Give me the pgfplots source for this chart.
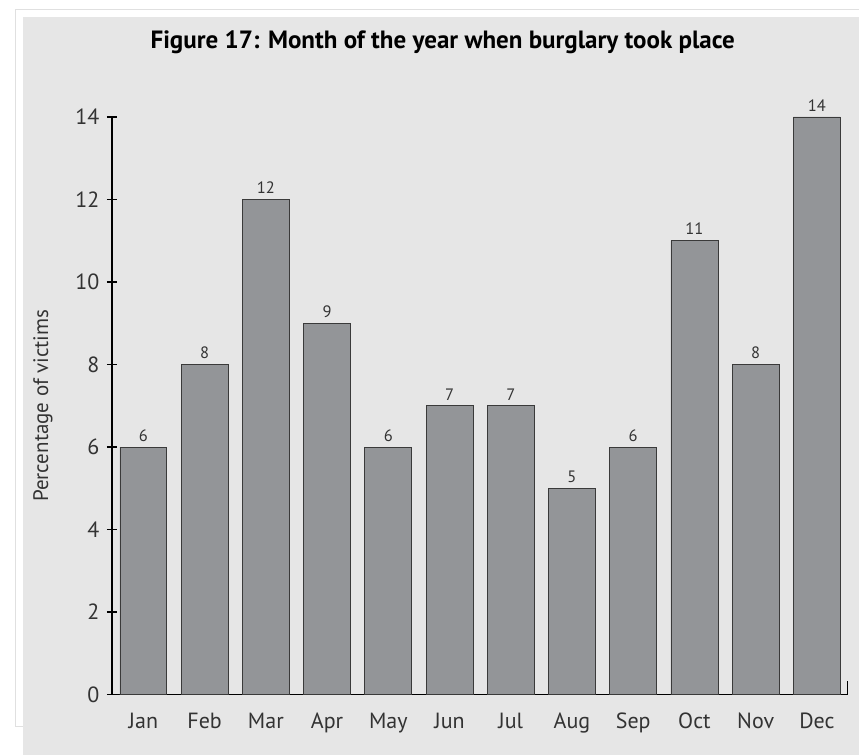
\documentclass[border=0pt]{standalone}
\usepackage{pgfplots}
\pgfplotsset{compat=1.18}
\usepackage{fontspec}
\setmainfont{PT Sans}
\definecolor{panel}{HTML}{E6E6E6}
\definecolor{barfill}{HTML}{939598}
\definecolor{edge}{HTML}{3A3A3A}
\definecolor{txt}{HTML}{333333}

\pgfplotstableread{
idx month value
0 Jan 6
1 Feb 8
2 Mar 12
3 Apr 9
4 May 6
5 Jun 7
6 Jul 7
7 Aug 5
8 Sep 6
9 Oct 11
10 Nov 8
11 Dec 14
}\burglary

\begin{document}
\begin{tikzpicture}
\path (0pt,0pt) rectangle (859pt,755pt);
\draw[black!12, line width=1pt] (23pt,28pt) -- (16pt,28pt) -- (16pt,745pt) -- (859pt,745pt);
\fill[panel] (23pt,0pt) rectangle (859pt,738pt);
\node[font=\bfseries\fontsize{25}{29}\selectfont] at (443pt,713pt)
  {Figure 17: Month of the year when burglary took place};
\begin{axis}[
  at={(112pt,60pt)}, anchor=south west,
  width=736pt, height=578pt, scale only axis,
  xmin=-0.514, xmax=11.5, ymin=0, ymax=14,
  axis x line=bottom, axis y line=left,
  axis line style={-, line width=1.2pt, black},
  ytick={0,2,...,14},
  xtick=data,
  xticklabels={Jan,Feb,Mar,Apr,May,Jun,Jul,Aug,Sep,Oct,Nov,Dec},
  x tick style={draw=none},
  y tick style={line width=1.2pt, black},
  tick align=center, major tick length=10pt,
  ticklabel style={font=\fontsize{22}{25}\selectfont, text=txt},
  xticklabel style={yshift=-5pt},
  yticklabel style={xshift=-4pt},
  /pgf/number format/assume math mode=true,
  ylabel={Percentage of victims},
  ylabel style={at={(axis description cs:-0.094,0.5)}, anchor=center,
    font=\fontsize{21}{24}\selectfont, text=txt},
  ybar, bar width=47pt,
  nodes near coords,
  every node near coord/.append style={font=\fontsize{16.5}{19}\selectfont, text=txt, yshift=2pt},
  clip=false,
]
\addplot[fill=barfill, draw=edge, line width=0.8pt] table[x=idx, y=value] {\burglary};
\draw[line width=1.2pt] (rel axis cs:1,0) -- ++(0pt,14pt);
\end{axis}
\end{tikzpicture}
\end{document}
